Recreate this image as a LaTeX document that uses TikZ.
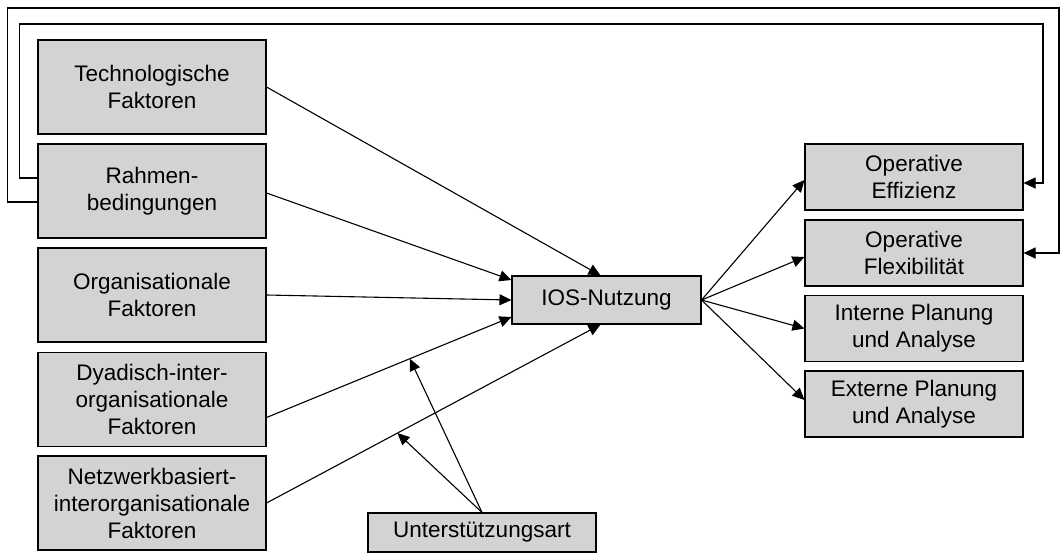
\documentclass[tikz,border=0pt]{standalone}
\usepackage{fontspec}
\setmainfont{Liberation Sans}
\usetikzlibrary{arrows.meta}

\begin{document}
\begin{tikzpicture}[x=1pt,y=-1pt]
        \tikzstyle{every node}+=[inner sep=0pt]
        \tikzstyle{box}=[draw=black, fill={rgb,255:red,211;green,211;blue,211}, line width=1.1pt, align=center, font=\fontsize{22.5}{27}\selectfont]
        \tikzstyle{linksbox}=[box, minimum width=228, minimum height=94]
        \tikzstyle{rechtsbox}=[box, minimum width=218, minimum height=66]
        \tikzstyle{pfeil}=[-{Triangle[length=12pt,width=11pt]}, line width=1.1pt]
        \useasboundingbox (0,0) rectangle (1062,557);
        % Einflussfaktoren
        \node [linksbox] (techfak) at (152,87) {Technologische\\Faktoren};
        \node [linksbox] (rahmen) at (152,191) {Rahmen-\\bedingungen};
        \node [linksbox] (orgfak) at (152,295) {Organisationale\\Faktoren};
        \node [linksbox] (dyadfak) at (152,399.5) {Dyadisch-inter-\\organisationale\\Faktoren};
        \node [linksbox] (netzfak) at (152,503) {Netzwerkbasiert-\\interorganisationale\\Faktoren};
        \node [box, minimum width=189, minimum height=48] (ios) at (606.5,300) {IOS-Nutzung};
        \node [box, minimum width=228, minimum height=39] (unterst) at (482,532.5) {Unterst\"utzungsart};
        % Wirkungen
        \node [rechtsbox] (opeff) at (914,177) {Operative\\Effizienz};
        \node [rechtsbox] (opflex) at (914,253) {Operative\\Flexibilit\"at};
        \node [rechtsbox] (intplan) at (914,328.5) {Interne Planung\\und Analyse};
        \node [rechtsbox] (extplan) at (914,404) {Externe Planung\\und Analyse};
        \draw [pfeil] (techfak.east) -- ([xshift=-6pt]ios.north);
        \draw [pfeil] ([yshift=-2pt]rahmen.east) -- ([yshift=20pt]ios.west);
        \draw [pfeil] (orgfak.east) -- (ios.west);
        \draw [pfeil] ([yshift=-18pt]dyadfak.east) -- coordinate[pos=0.585] (dyadmitte) ([yshift=-17pt]ios.west);
        \draw [pfeil] (netzfak.east) -- coordinate[pos=0.392] (netzmitte) ([xshift=-6pt]ios.south);
        \draw [pfeil] (unterst.north) -- (dyadmitte);
        \draw [pfeil] (unterst.north) -- (netzmitte);
        \draw [pfeil] (ios.east) -- ([yshift=-3pt]opeff.west);
        \draw [pfeil] (ios.east) -- ([yshift=-4pt]opflex.west);
        \draw [pfeil] (ios.east) -- (intplan.west);
        \draw [pfeil] (ios.east) -- ([yshift=4pt]extplan.west);
        % Rueckkopplung
        \draw [pfeil] ([yshift=13pt]rahmen.west) -- ++(-18,0) |- (1043,24) |- ([yshift=-6pt]opeff.east);
        \draw [pfeil] ([yshift=-11pt]rahmen.west) -- ++(-30,0) |- (1059,8) |- (opflex.east);
\end{tikzpicture}
\end{document}
